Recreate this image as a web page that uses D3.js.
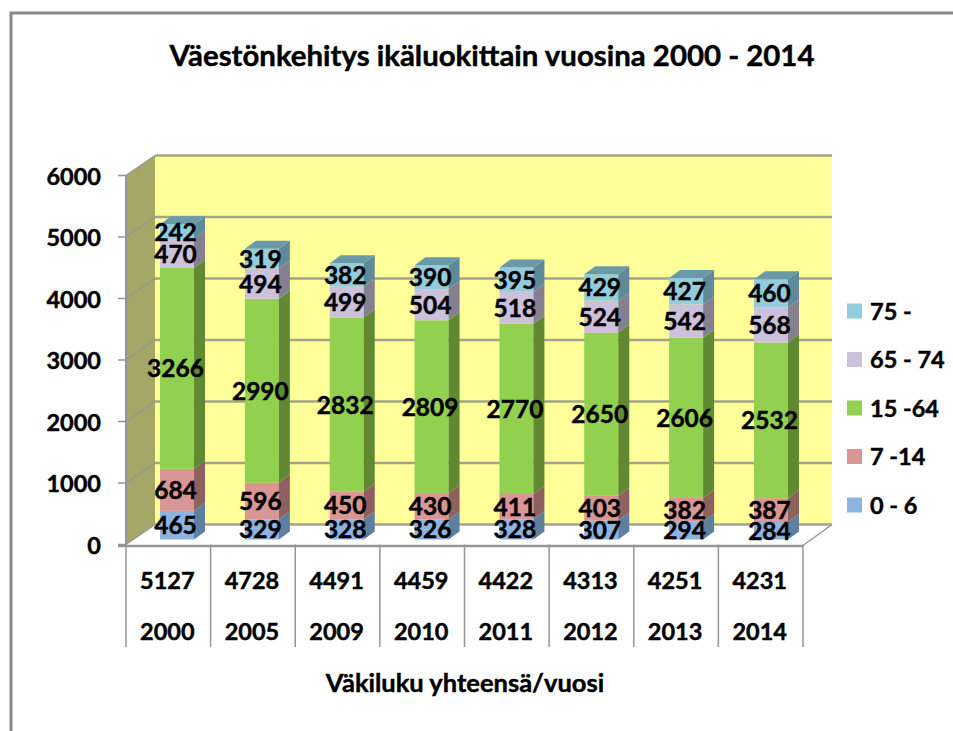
<!DOCTYPE html>
<html>
<head>
<meta charset="utf-8">
<script src="https://cdn.jsdelivr.net/npm/d3@7"></script>
<style>
  html, body { margin: 0; padding: 0; background: #fff; }
  text { font-family: Lato, "Open Sans", sans-serif; font-weight: 700; fill: #000; stroke: #000; stroke-width: 0.45px; }
</style>
</head>
<body>
<div id="chart"></div>
<script>
const years = ['2000', '2005', '2009', '2010', '2011', '2012', '2013', '2014'];
const totals = [5127, 4728, 4491, 4459, 4422, 4313, 4251, 4231];
const age0to6 = [465, 329, 328, 326, 328, 307, 294, 284];
const age7to14 = [684, 596, 450, 430, 411, 403, 382, 387];
const age15to64 = [3266, 2990, 2832, 2809, 2770, 2650, 2606, 2532];
const age65to74 = [470, 494, 499, 504, 518, 524, 542, 568];
const age75plus = [242, 319, 382, 390, 395, 429, 427, 460];
const seriesNames = ['0 - 6', '7 -14', '15 -64', '65 - 74', '75 -'];
const yTicks = [0, 1000, 2000, 3000, 4000, 5000, 6000];

const seriesValues = [age0to6, age7to14, age15to64, age65to74, age75plus];
const colors = ['#8db3e2', '#d99694', '#92d050', '#ccc1da', '#93cddd'];
const sideColors = ['#5f7f9f', '#8f6060', '#5f8a33', '#857f90', '#5f8a9a'];
const topColors = ['#5f7f9f', '#8f6060', '#5f8a33', '#857f90', '#6a99a8'];
const gridColor = '#a3a38c';
const axisColor = '#969696';

const width = 953, height = 731;
const depth = {x: 29, y: -20};   // back wall offset
const barDepth = {x: 11, y: -8};

const svg = d3.select('#chart').append('svg')
    .attr('width', width)
    .attr('height', height)
    .style('display', 'block');

// outer frame, cut by the page edge
svg.append('path')
    .attr('d', `M11,${height} V13 H${width}`)
    .attr('fill', 'none')
    .attr('stroke', '#898989')
    .attr('stroke-width', 3);

svg.append('text')
    .attr('x', 492)
    .attr('y', 66)
    .attr('text-anchor', 'middle')
    .attr('font-size', 29.4)
    .text('Väestönkehitys ikäluokittain vuosina 2000 - 2014');

const x = d3.scaleBand().domain(years).range([126, 803]);
const xBars = d3.scaleBand().domain(years).range([134.6, 813.4]);
const y = d3.scaleLinear().domain([0, 6000]).range([544.5, 175.5]);
const barWidth = 34;
const barX = d => xBars(d) + xBars.bandwidth() / 2 - barWidth / 2;
const barY = v => y(v) - 5;

// walls
const x0 = x.range()[0], x1 = x.range()[1];
svg.append('rect')
    .attr('x', x0 + depth.x)
    .attr('y', y(6000) + depth.y)
    .attr('width', x1 - x0)
    .attr('height', y(0) - y(6000))
    .attr('fill', '#ffff99');

svg.append('path')
    .attr('d', `M${x0},${y(0)} L${x0},${y(6000)} L${x0 + depth.x},${y(6000) + depth.y} L${x0 + depth.x},${y(0) + depth.y} Z`)
    .attr('fill', '#a6a666');

// gridlines on the back and side wall
yTicks.forEach(t => {
  svg.append('line')
      .attr('x1', x0 + depth.x).attr('x2', x1 + depth.x)
      .attr('y1', y(t) + depth.y).attr('y2', y(t) + depth.y)
      .attr('stroke', gridColor)
      .attr('stroke-width', 2.5);
  svg.append('line')
      .attr('x1', x0).attr('x2', x0 + depth.x)
      .attr('y1', y(t)).attr('y2', y(t) + depth.y)
      .attr('stroke', axisColor)
      .attr('stroke-width', 1.5);
  svg.append('line')
      .attr('x1', x0 - 8).attr('x2', x0)
      .attr('y1', y(t)).attr('y2', y(t))
      .attr('stroke', axisColor)
      .attr('stroke-width', 1.5);
  svg.append('text')
      .attr('x', 101)
      .attr('y', y(t) + 9)
      .attr('text-anchor', 'end')
      .attr('font-size', 23.5)
      .text(t);
});

// floor edge
svg.append('line')
    .attr('x1', x1).attr('x2', x1 + depth.x)
    .attr('y1', y(0) + 1).attr('y2', y(0) + depth.y)
    .attr('stroke', axisColor)
    .attr('stroke-width', 1.5);
svg.append('line')
    .attr('x1', x0 - 8).attr('x2', x1)
    .attr('y1', y(0) + 1.5).attr('y2', y(0) + 1.5)
    .attr('stroke', axisColor)
    .attr('stroke-width', 2.5);
svg.append('line')
    .attr('x1', x0).attr('x2', x0)
    .attr('y1', y(6000)).attr('y2', y(0))
    .attr('stroke', axisColor)
    .attr('stroke-width', 2);

// table under the axis
[...years.map(d => x(d)), x1].forEach(px => {
  svg.append('line')
      .attr('x1', px).attr('x2', px)
      .attr('y1', y(0)).attr('y2', 647)
      .attr('stroke', axisColor)
      .attr('stroke-width', 1.5);
});

// stacked bars, drawn as small boxes
const rows = years.map((yr, i) => {
  const row = {year: yr};
  seriesNames.forEach((s, j) => { row[s] = seriesValues[j][i]; });
  return row;
});
const stacked = d3.stack().keys(seriesNames)(rows);

const barsG = svg.append('g');
const labelsG = svg.append('g');
stacked.forEach((layer, j) => {
  layer.forEach(seg => {
    const yr = seg.data.year;
    const left = barX(yr), right = left + barWidth;
    const yBottom = barY(seg[0]), yTop = barY(seg[1]);
    barsG.append('rect')
        .attr('x', left).attr('y', yTop)
        .attr('width', barWidth).attr('height', yBottom - yTop)
        .attr('fill', colors[j]);
    barsG.append('path')
        .attr('d', `M${right},${yBottom} L${right + barDepth.x},${yBottom + barDepth.y} L${right + barDepth.x},${yTop + barDepth.y} L${right},${yTop} Z`)
        .attr('fill', sideColors[j]);
    if (j === seriesNames.length - 1) {
      barsG.append('path')
          .attr('d', `M${left},${yTop} L${left + barDepth.x},${yTop + barDepth.y} L${right + barDepth.x},${yTop + barDepth.y} L${right},${yTop} Z`)
          .attr('fill', topColors[j]);
    }
    labelsG.append('text')
        .attr('x', (left + right) / 2 - 1.5)
        .attr('y', (yTop + yBottom) / 2 + 9)
        .attr('text-anchor', 'middle')
        .attr('font-size', 24.5)
        .text(seg[1] - seg[0]);
  });
});

// table text
years.forEach((yr, i) => {
  const cx = x(yr) + x.bandwidth() / 2 - 1;
  svg.append('text')
      .attr('x', cx).attr('y', 589)
      .attr('text-anchor', 'middle')
      .attr('font-size', 23.5)
      .text(totals[i]);
  svg.append('text')
      .attr('x', cx).attr('y', 640)
      .attr('text-anchor', 'middle')
      .attr('font-size', 23.5)
      .text(yr);
});

svg.append('text')
    .attr('x', 465)
    .attr('y', 692)
    .attr('text-anchor', 'middle')
    .attr('font-size', 25.5)
    .text('Väkiluku yhteensä/vuosi');

// legend, top to bottom reversed
const legendY = d3.scalePoint().domain(seriesNames.slice().reverse()).range([311, 505]);
seriesNames.forEach((s, j) => {
  svg.append('rect')
      .attr('x', 847).attr('y', legendY(s) - 7.5)
      .attr('width', 15).attr('height', 15)
      .attr('fill', colors[j]);
  svg.append('text')
      .attr('x', 870).attr('y', legendY(s) + 8.5)
      .attr('font-size', 23.5)
      .text(s);
});
</script>
</body>
</html>
